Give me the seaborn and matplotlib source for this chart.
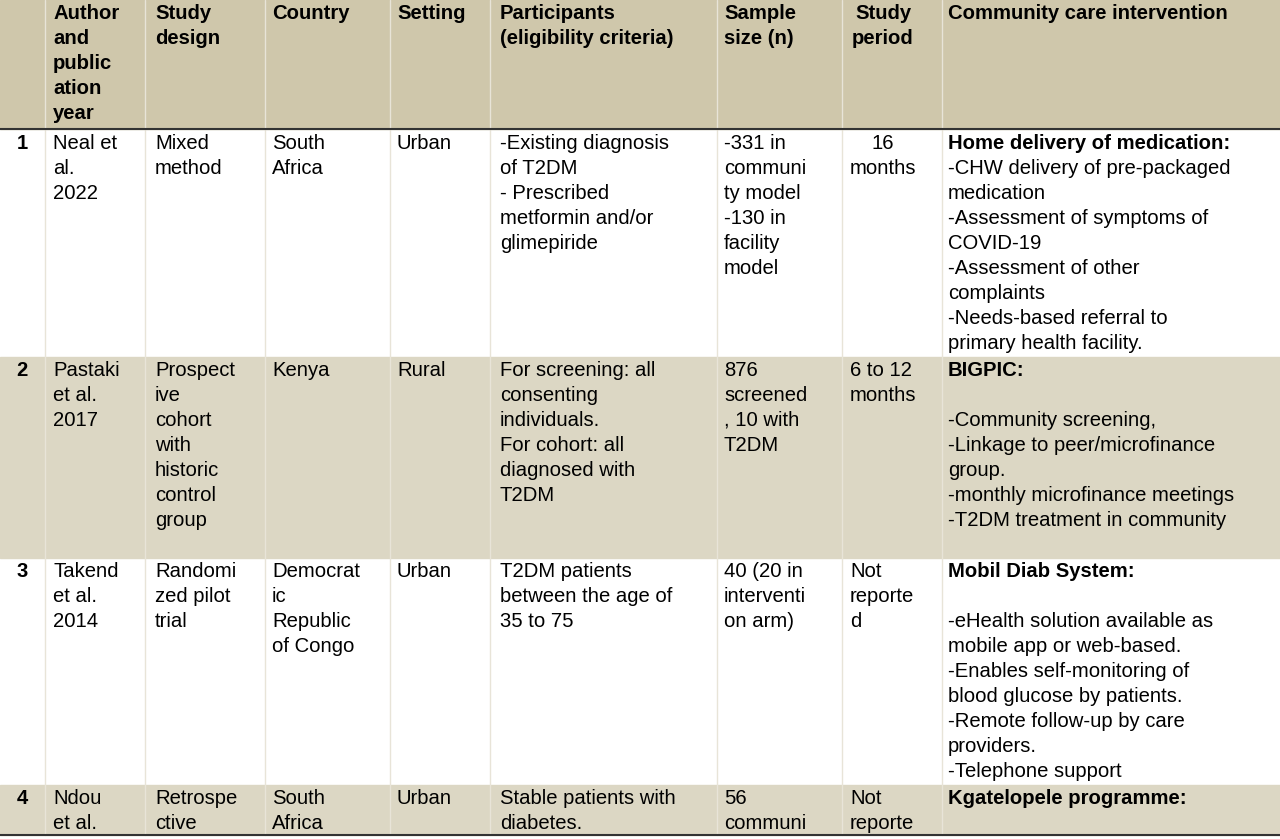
import matplotlib.pyplot as plt
import seaborn as sns

sns.set_theme(style="white")
plt.rcParams['font.family'] = ['Liberation Sans', 'DejaVu Sans']

headers = [
    ["Author", "and", "public", "ation", "year"],
    ["Study", "design"],
    ["Country"],
    ["Setting"],
    ["Participants", "(eligibility criteria)"],
    ["Sample", "size (n)"],
    ["Study", "period"],
    ["Community care intervention"],
]

row_numbers = ["1", "2", "3", "4"]
authors = [
    ["Neal et", "al.", "2022"],
    ["Pastaki", "et al.", "2017"],
    ["Takend", "et al.", "2014"],
    ["Ndou", "et al."],
]
designs = [
    ["Mixed", "method"],
    ["Prospect", "ive", "cohort", "with", "historic", "control", "group"],
    ["Randomi", "zed pilot", "trial"],
    ["Retrospe", "ctive"],
]
countries = [
    ["South", "Africa"],
    ["Kenya"],
    ["Democrat", "ic", "Republic", "of Congo"],
    ["South", "Africa"],
]
settings = [["Urban"], ["Rural"], ["Urban"], ["Urban"]]
participants = [
    ["-Existing diagnosis", "of T2DM", "- Prescribed", "metformin and/or", "glimepiride"],
    ["For screening: all", "consenting", "individuals.", "For cohort: all", "diagnosed with", "T2DM"],
    ["T2DM patients", "between the age of", "35 to 75"],
    ["Stable patients with", "diabetes."],
]
samples = [
    ["-331 in", "communi", "ty model", "-130 in", "facility", "model"],
    ["876", "screened", ", 10 with", "T2DM"],
    ["40 (20 in", "interventi", "on arm)"],
    ["56", "communi"],
]
periods = [
    ["16", "months"],
    ["6 to 12", "months"],
    ["Not", "reporte", "d"],
    ["Not", "reporte"],
]
interventions = [
    ["Home delivery of medication:", "-CHW delivery of pre-packaged", "medication",
     "-Assessment of symptoms of", "COVID-19", "-Assessment of other", "complaints",
     "-Needs-based referral to", "primary health facility."],
    ["BIGPIC:", "", "-Community screening,", "-Linkage to peer/microfinance", "group.",
     "-monthly microfinance meetings", "-T2DM treatment in community"],
    ["Mobil Diab System:", "", "-eHealth solution available as", "mobile app or web-based.",
     "-Enables self-monitoring of", "blood glucose by patients.", "-Remote follow-up by care",
     "providers.", "-Telephone support"],
    ["Kgatelopele programme:"],
]

col_x = [53, 155, 272, 397, 500, 724, 850, 948]
vlines = [45, 145, 265, 390, 490, 717, 842, 942]
row_tops = [130, 357, 558, 785]
row_bottoms = [357, 558, 785, 835]
header_color = "#cfc7ab"
band_color = "#dcd7c4"
step = 25
fs = 14.6

fig = plt.figure(figsize=(12.8, 8.39), dpi=100)
ax = fig.add_axes([0, 0, 1, 1])
ax.set_xlim(0, 1280)
ax.set_ylim(839, 0)
ax.axis("off")

ax.axhspan(0, 129, color=header_color, zorder=0)
for i, (t, b) in enumerate(zip(row_tops, row_bottoms)):
    if i % 2 == 1:
        ax.axhspan(t, b, color=band_color, zorder=0)
for x in vlines:
    ax.plot([x, x], [0, 835], color="#e8e4d8", lw=1, zorder=1)
ax.plot([0, 1280], [129, 129], color="#333333", lw=1.5, zorder=2)
ax.plot([0, 1280], [835, 835], color="#333333", lw=1.5, zorder=2)


def put_lines(x, top, lines, bold=False, ha="left", bold_first=False):
    for k, line in enumerate(lines):
        w = "bold" if bold or (bold_first and k == 0) else "normal"
        ax.text(x, top + 4 + k * step, line, fontsize=fs, fontweight=w,
                ha=ha, va="top", color="black", zorder=3)


for c, (x, lines) in enumerate(zip(col_x, headers)):
    if c == 6:
        put_lines(883, 0, lines, bold=True, ha="center")
    else:
        put_lines(x, 0, lines, bold=True)

columns = [authors, designs, countries, settings, participants, samples, periods, interventions]
for r, top in enumerate(row_tops):
    put_lines(22, top, [row_numbers[r]], bold=True, ha="center")
    for c, (x, col) in enumerate(zip(col_x, columns)):
        if c == 6 and r == 0:
            put_lines(883, top, col[r], ha="center")
        elif c == 7:
            put_lines(x, top, col[r], bold_first=True)
        else:
            put_lines(x, top, col[r])

fig.savefig("out.png", dpi=100)
